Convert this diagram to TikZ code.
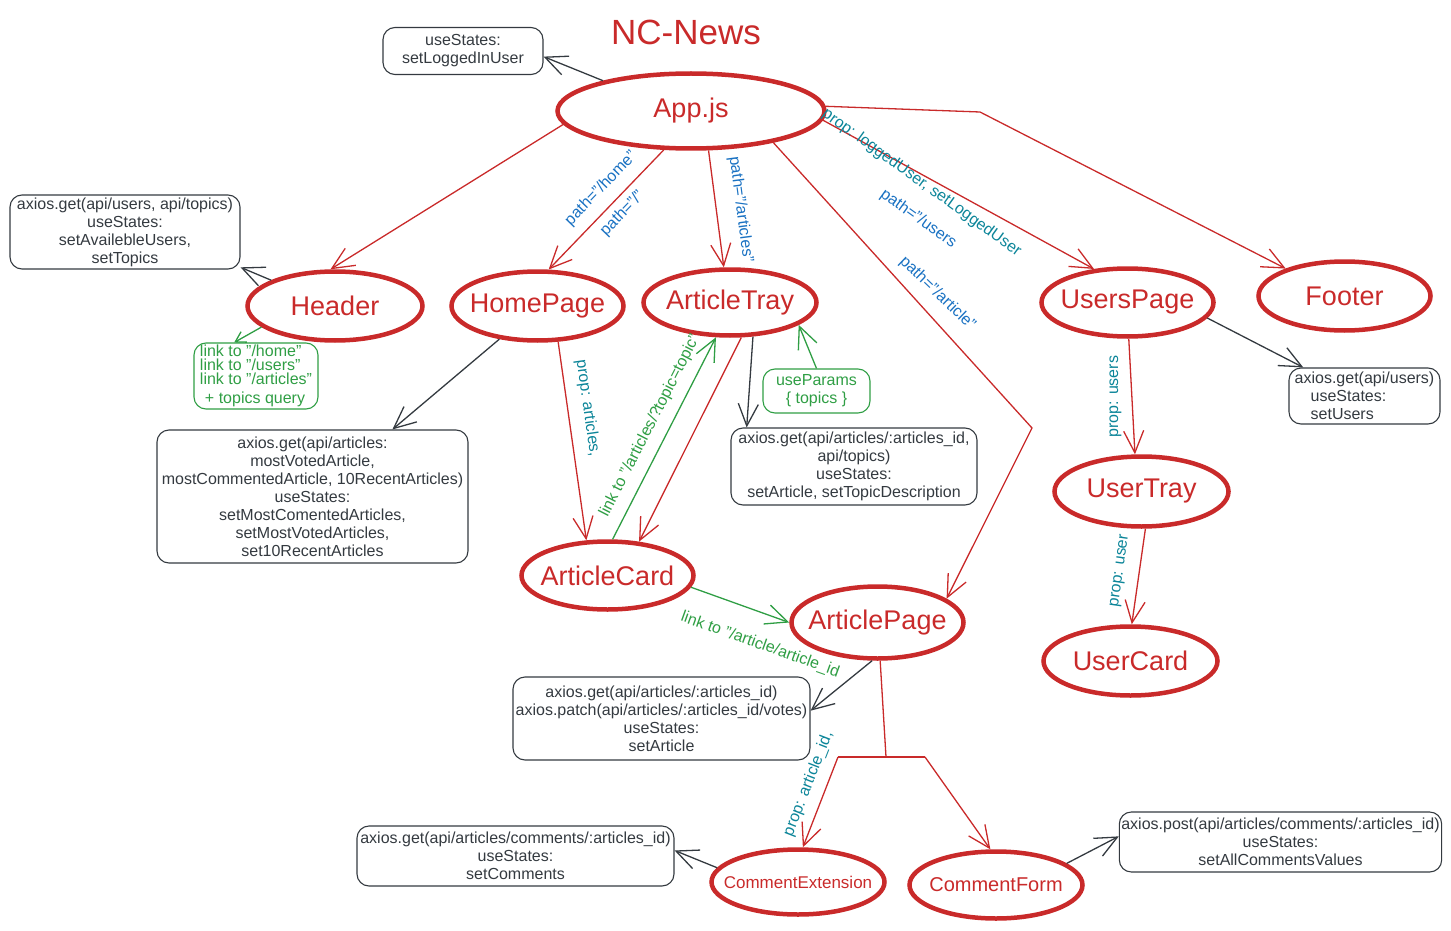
\documentclass[tikz,border=0pt]{standalone}
\usepackage{fontspec}
\setmainfont{Liberation Sans}
\usetikzlibrary{arrows.meta,shapes.geometric}
\definecolor{nred}{HTML}{C92A2A}
\definecolor{ngray}{HTML}{343A40}
\definecolor{ngreen}{HTML}{2F9E44}
\definecolor{nblue}{HTML}{1971C2}
\definecolor{nteal}{HTML}{0C8599}
\newcommand{\complabel}[1]{\makebox[0pt]{#1}}

\begin{document}
\begin{tikzpicture}[x=1pt,y=-1pt,
    comp/.style={ellipse, draw=nred, line width=4.5pt, text=nred, inner sep=0pt,
        font=\fontsize{27}{30}\selectfont},
    info/.style={draw=ngray, line width=1.1pt, rounded corners=12pt, text=ngray,
        align=center, inner sep=2pt, font=\fontsize{16}{18}\selectfont},
    ginfo/.style={info, draw=ngreen, text=ngreen},
    redarr/.style={draw=nred, line width=1.3pt, -{Straight Barb[length=22pt,width=20pt]}},
    grayarr/.style={redarr, draw=ngray},
    greenarr/.style={redarr, draw=ngreen},
    lbl/.style={font=\fontsize{16}{18}\selectfont, inner sep=1pt, text height=11.5pt, text depth=3.5pt},
]
    \useasboundingbox (0,0) rectangle (1451,931);

    % Title
    \node[text=nred, font=\fontsize{35}{40}\selectfont] (title) at (686,32) {NC-News};

    % Components
    \node[comp, minimum width=267pt, minimum height=75pt] (app) at (691,111) {\complabel{App.js}};
    \node[comp, minimum width=175pt, minimum height=69pt] (header) at (335,306) {\complabel{Header}};
    \node[comp, minimum width=172pt, minimum height=69pt] (home) at (537.5,306) {\complabel{HomePage}};
    \node[comp, minimum width=173pt, minimum height=66pt] (tray) at (730,302.5) {\complabel{ArticleTray}};
    \node[comp, minimum width=172pt, minimum height=68pt] (upage) at (1127.5,302.5) {\complabel{UsersPage}};
    \node[comp, minimum width=172pt, minimum height=69pt] (footer) at (1344.5,296) {\complabel{Footer}};
    \node[comp, minimum width=174pt, minimum height=70pt] (utray) at (1141.5,491.5) {\complabel{UserTray}};
    \node[comp, minimum width=174pt, minimum height=69pt] (ucard) at (1130.5,661) {\complabel{UserCard}};
    \node[comp, minimum width=172pt, minimum height=68pt] (acard) at (607.5,575.5) {\complabel{ArticleCard}};
    \node[comp, minimum width=172pt, minimum height=72pt] (apage) at (877.5,622.5) {\complabel{ArticlePage}};
    \node[comp, minimum width=173pt, minimum height=65pt, font=\fontsize{17}{20}\selectfont] (cext) at (798,882) {\complabel{CommentExtension}};
    \node[comp, minimum width=173pt, minimum height=67pt, font=\fontsize{20}{24}\selectfont] (cform) at (996,885) {\complabel{CommentForm}};

    % State and request boxes
    \node[info, minimum width=160pt, minimum height=47pt] (lgduser) at (463,51) {useStates:\\setLoggedInUser};
    \node[info, minimum width=230pt, minimum height=74pt] (hdrget) at (125,232) {axios.get(api/users, api/topics)\\useStates:\\setAvailebleUsers,\\setTopics};
    \node[info, minimum width=311pt, minimum height=133pt] (homeget) at (312.5,496.5) {axios.get(api/articles:\\mostVotedArticle,\\mostCommentedArticle, 10RecentArticles)\\useStates:\\setMostComentedArticles,\\setMostVotedArticles,\\set10RecentArticles};
    \node[info, minimum width=246pt, minimum height=77pt] (trayget) at (854,466.5) {axios.get(api/articles/:articles\_id,\\api/topics)\\useStates:\\setArticle, setTopicDescription};
    \node[info, minimum width=151pt, minimum height=56pt, align=left] (userget) at (1364.5,396) {axios.get(api/users)\\\hspace*{16pt}useStates:\\\hspace*{16pt}setUsers};
    \node[info, minimum width=297pt, minimum height=83pt] (pageget) at (661.5,718.5) {axios.get(api/articles/:articles\_id)\\axios.patch(api/articles/:articles\_id/votes)\\useStates:\\setArticle};
    \node[info, minimum width=317pt, minimum height=60pt] (extget) at (515.5,856) {axios.get(api/articles/comments/:articles\_id)\\useStates:\\setComments};
    \node[info, minimum width=319pt, minimum height=60pt] (formget) at (1280.5,842) {axios.post(api/articles/comments/:articles\_id)\\useStates:\\setAllCommentsValues};
    \node[ginfo, minimum width=124pt, minimum height=66pt, align=left, font=\fontsize{16}{14}\selectfont] (hdrlinks) at (256,376) {link to "/home"\\link to "/users"\\link to "/articles"\\[5pt]\hspace*{5pt}+ topics query};
    \node[ginfo, minimum width=107pt, minimum height=44pt] (upar) at (816.5,391) {useParams\\\{ topics \}};

    % Bends
    \coordinate (fbend) at (980,112);
    \coordinate (abend) at (1032,428);
    \coordinate (split) at (886,757);
    \coordinate (splitl) at (838,757);
    \coordinate (splitr) at (925,757);

    % App.js
    \draw[grayarr] (app.161) -- (lgduser.-4);
    \draw[redarr] (app.186) -- (header.97);
    \draw[redarr] (app.235) -- node[lbl, text=nblue, sloped, above=9pt, pos=.43] {path="/home"}
        node[lbl, text=nblue, sloped, below=5.5pt, pos=.45] {path="/"} (home.73);
    \draw[redarr] (app.-66) -- node[lbl, text=nblue, sloped, above=15pt, pos=.53] {path="/articles"} (tray.100);
    \draw[redarr] (app.-4) -- node[lbl, text=nteal, sloped, rotate=-7, below=-1.5pt, pos=.38] {prop: loggedUser, setLoggedUser}
        node[lbl, text=nblue, sloped, rotate=-7, below=32pt, pos=.44] {path="/users} (upage.135);
    \draw[redarr] (app.2) -- (fbend) -- (footer.155);
    \draw[redarr] (app.-21) -- node[lbl, text=nblue, sloped, rotate=4, above=11pt, pos=.58] {path="/article"} (abend) -- (apage.19);

    % Header
    \draw[grayarr] (header.158) -- (hdrget.-17);
    \draw[greenarr, -{Straight Barb[length=10pt,width=12pt]}] (header.196) -- (hdrlinks.123);

    % HomePage
    \draw[grayarr] (home.221) -- (homeget.40);
    \draw[redarr] (home.-60) -- node[lbl, text=nteal, sloped, above=10.5pt, pos=.35] {prop: articles,} (acard.121);

    % ArticleTray and ArticleCard
    \draw[greenarr] (acard.82) -- node[lbl, text=ngreen, sloped, above=9pt, pos=.52] {link to "/articles/?topic=topic"} (tray.-112);
    \draw[redarr] (tray.-72) -- (acard.47);
    \draw[grayarr] (tray.-56) -- (trayget.160);
    \draw[greenarr] (upar.north) -- (tray.-18);
    \draw[greenarr] (acard.-8) -- node[lbl, text=ngreen, sloped, below=22pt, pos=.81] {link to "/article/article\_id} (apage.west);

    % ArticlePage
    \draw[grayarr] (apage.-98) -- (pageget.3);
    \draw[nred, line width=1.3pt] (apage.-86) -- (split);
    \draw[nred, line width=1.3pt] (splitl) -- (splitr);
    \draw[redarr] (splitl) -- node[lbl, text=nteal, sloped, above=8.5pt, pos=.37] {prop: article\_id,} (cext.82);
    \draw[redarr] (splitr) -- (cform.99);
    \draw[grayarr] (cext.170) -- (extget.2);
    \draw[grayarr] (cform.17) -- (formget.178);

    % UsersPage
    \draw[grayarr] (upage.-11) -- (userget.155);
    \draw[redarr] (upage.-88) -- node[lbl, text=nteal, rotate=90, anchor=south, inner ysep=9.5pt, pos=.5] {prop: users} (utray.100);
    \draw[redarr] (utray.-84) -- node[lbl, text=nteal, sloped, above=11pt, pos=.47] {prop: user} (ucard.88);
\end{tikzpicture}
\end{document}
